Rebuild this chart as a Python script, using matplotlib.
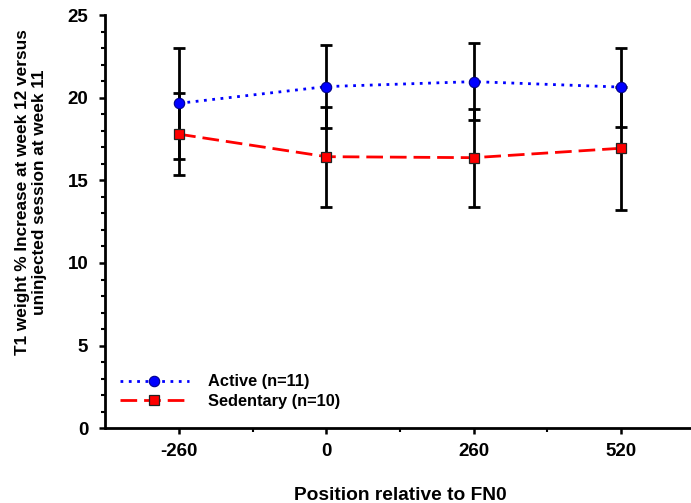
import matplotlib
matplotlib.use("Agg")
import matplotlib.pyplot as plt
from matplotlib.lines import Line2D
from matplotlib.ticker import MultipleLocator, FixedLocator

positions = [-260, 0, 260, 520]
active = [19.66, 20.67, 20.97, 20.64]
active_err = [3.35, 2.50, 2.31, 2.39]
sedentary = [17.79, 16.43, 16.37, 16.94]
sedentary_err = [2.47, 3.03, 2.97, 3.73]
labels = ["Active (n=11)", "Sedentary (n=10)"]
xticks = [-260, 0, 260, 520]
yticks = [0, 5, 10, 15, 20, 25]

plt.rcParams['font.family'] = ['Liberation Sans', 'DejaVu Sans']
plt.rcParams['font.weight'] = 'bold'
plt.rcParams['axes.unicode_minus'] = False

fig = plt.figure(figsize=(6.91, 5.03), dpi=100)
ax = fig.add_axes([105.5/691, 74.7/503, 589.1/691, 413.3/503])

blue_ls = (0, (1, 2))
red_ls = (0, (6, 2.5))

ax.plot(positions, active, color='#0000ff', lw=2.0, ls=blue_ls, zorder=2)
ax.plot(positions, sedentary, color='#ff0000', lw=2.0, ls=red_ls, zorder=2)
ax.errorbar(positions, active, yerr=active_err, fmt='none', ecolor='black',
            elinewidth=2, capsize=4.5, capthick=2, zorder=3)
ax.errorbar(positions, sedentary, yerr=sedentary_err, fmt='none', ecolor='black',
            elinewidth=2, capsize=4.5, capthick=2, zorder=3)
ax.plot(positions, active, ls='none', marker='o', ms=7.5, mfc='#0000ff',
        mec='#00008b', mew=0.8, zorder=4)
ax.plot(positions, sedentary, ls='none', marker='s', ms=7.8, mfc='#ff0000',
        mec='#222222', mew=0.9, zorder=4)

ax.set_xlim(-390, 650)
ax.set_ylim(0, 25)
ax.xaxis.set_major_locator(FixedLocator(xticks))
ax.xaxis.set_minor_locator(FixedLocator([-130, 130, 390, 650]))
ax.yaxis.set_major_locator(FixedLocator(yticks))
ax.yaxis.set_minor_locator(MultipleLocator(1))

for s in ['top', 'right']:
    ax.spines[s].set_visible(False)
for s in ['left', 'bottom']:
    ax.spines[s].set_linewidth(2.0)

ax.tick_params(axis='both', which='major', direction='out', length=4.5, width=1.8,
               labelsize=13.5, colors='black')
ax.tick_params(axis='both', which='minor', direction='out', length=3, width=1.5)
ax.tick_params(axis='x', which='major', pad=6)
ax.tick_params(axis='y', which='major', pad=8)
for lab in ax.get_xticklabels() + ax.get_yticklabels():
    lab.set_fontweight('bold')

fig.text(400/691, 3/503, "Position relative to FN0", ha='center', va='baseline',
         fontsize=13.8, fontweight='bold')
fig.text(31/691, 1 - 192/503,
         "T1 weight % Increase at week 12 versus\nuninjected session at week 11",
         rotation=90, ha='center', va='center', multialignment='center',
         fontsize=12.4, fontweight='bold', linespacing=1.12)

handles = [
    Line2D([], [], color='#0000ff', lw=2.0, ls=blue_ls, marker='o', ms=7.5,
           mfc='#0000ff', mec='#00008b', mew=0.8),
    Line2D([], [], color='#ff0000', lw=2.0, ls=red_ls, marker='s', ms=7.8,
           mfc='#ff0000', mec='#222222', mew=0.9),
]
leg = fig.legend(handles, labels, loc='center left',
                 bbox_to_anchor=(120/691, 1 - 391.5/503), frameon=False,
                 borderpad=0, borderaxespad=0, handlelength=4.2,
                 handletextpad=1.2, labelspacing=0.25, numpoints=1,
                 prop={'size': 11.8, 'weight': 'bold'})

fig.savefig("out.png", dpi=100)
